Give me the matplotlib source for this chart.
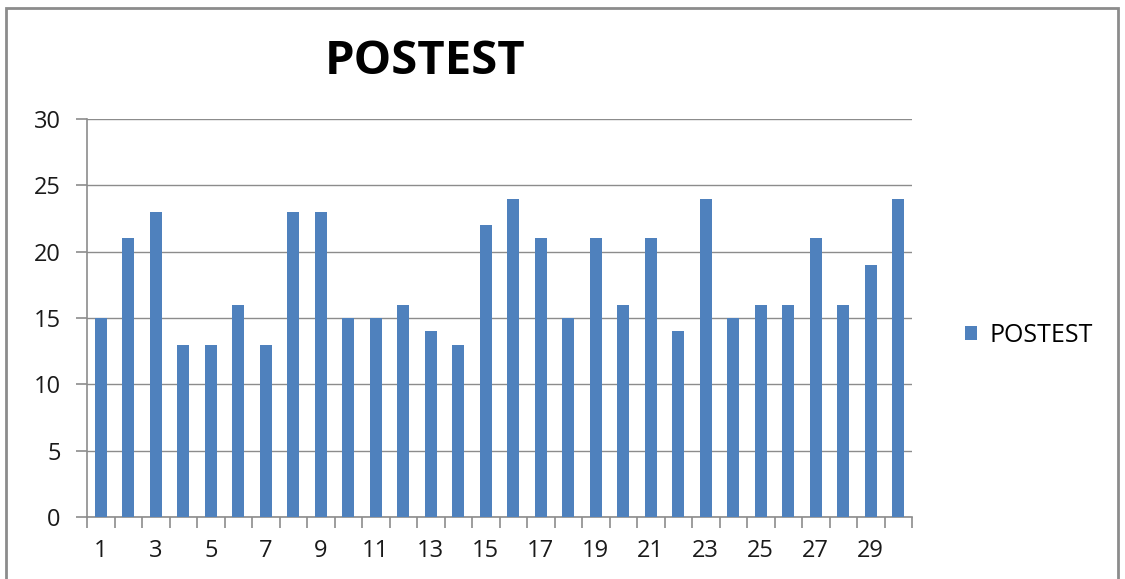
import numpy as np
import matplotlib
matplotlib.use('Agg')
import matplotlib.pyplot as plt
from matplotlib.patches import Rectangle

plt.rcParams['font.family'] = ['Open Sans', 'DejaVu Sans']

# 数据
students = list(range(1, 31))
postest = [15, 21, 23, 13, 13, 16, 13, 23, 23, 15,
           15, 16, 14, 13, 22, 24, 21, 15, 21, 16,
           21, 14, 24, 15, 16, 16, 21, 16, 19, 24]
y_ticks = [0, 5, 10, 15, 20, 25, 30]
x_labels = [str(s) for s in students if s % 2 == 1]

bar_color = '#4f81bd'
grid_color = '#8c8c8c'

fig = plt.figure(figsize=(11.25, 5.79), dpi=100)
ax = fig.add_axes([87 / 1125, 1 - 517 / 579, (912 - 87) / 1125, (517 - 119) / 579])

ax.bar(students, postest, width=0.45, color=bar_color, zorder=3, label='POSTEST')

ax.set_xlim(0.5, len(students) + 0.5)
ax.set_ylim(0, 30)
ax.set_yticks(y_ticks)
ax.yaxis.grid(True, color=grid_color, linewidth=1, zorder=0)

# 分类边界刻度
ax.set_xticks(np.arange(0.5, len(students) + 1, 1))
ax.set_xticklabels([])
ax.tick_params(axis='x', which='major', length=8, color=grid_color, width=1.2)
ax.set_xticks([s for s in students if s % 2 == 1], minor=True)
ax.set_xticklabels(x_labels, minor=True)
ax.tick_params(axis='x', which='minor', length=0, pad=16, labelsize=17, labelcolor='#1a1a1a')
ax.tick_params(axis='y', length=8, color=grid_color, width=1.2, labelsize=17,
               labelcolor='#1a1a1a', pad=11)

for side in ['top', 'right']:
    ax.spines[side].set_visible(False)
for side in ['left', 'bottom']:
    ax.spines[side].set_color(grid_color)
    ax.spines[side].set_linewidth(1.2)

fig.text(425 / 1125, 1 - 62 / 579, 'POSTEST', fontsize=34, fontweight='bold',
         ha='center', va='center', color='black')

ax.legend(loc='center left', bbox_to_anchor=(1.064, 0.457), frameon=False,
          fontsize=18, handlelength=0.5, handleheight=0.5, handletextpad=0.5,
          borderpad=0, borderaxespad=0)

# 外框
fig.patches.append(Rectangle((6 / 1125, -0.01), 1112 / 1125, 1 - 8 / 579 + 0.01,
                             transform=fig.transFigure, fill=False,
                             edgecolor='#8c8c8c', linewidth=2))

fig.savefig('out.png', dpi=100)
